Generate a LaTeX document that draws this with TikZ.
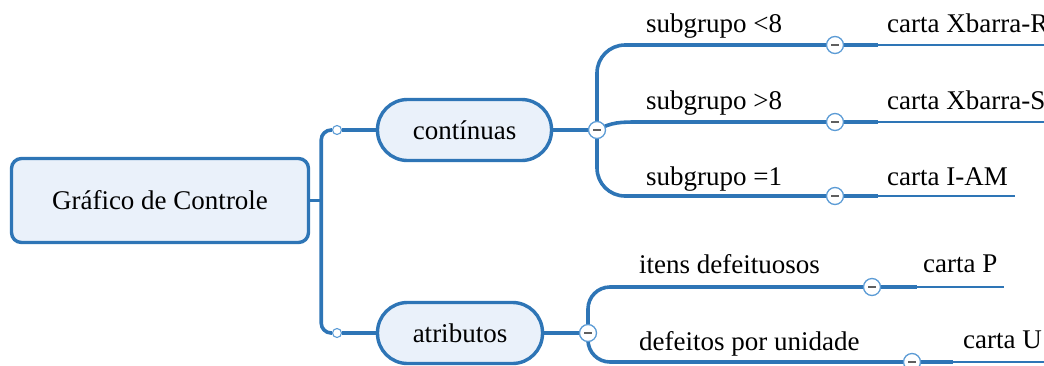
\documentclass[tikz,border=0pt]{standalone}
\usepackage{fontspec}
\setmainfont{Liberation Serif}
\usepackage{tikz}
\usetikzlibrary{positioning}
\usetikzlibrary{shapes,arrows,backgrounds}
\definecolor{mapblue}{RGB}{46,117,182}
\definecolor{mapfill}{RGB}{234,241,250}
\definecolor{foldblue}{RGB}{91,155,213}
\definecolor{foldgray}{RGB}{95,95,95}
\tikzstyle{rootbox} = [rectangle, draw=mapblue, fill=mapfill, line width=3.4pt,
                rounded corners=10pt, minimum width=297pt, minimum height=84pt]
\tikzstyle{catbox} = [rectangle, draw=mapblue, fill=mapfill, line width=3.4pt,
                rounded corners=30pt, minimum width=174pt, minimum height=61pt]
\tikzstyle{link} = [draw=mapblue, line width=3.6pt]
\tikzstyle{leafline} = [draw=mapblue, line width=2.7pt]
\tikzstyle{dot} = [circle, draw=foldblue, fill=white, line width=1.1pt,
                minimum size=9pt, inner sep=0pt]
\tikzstyle{fold} = [circle, draw=foldblue, fill=white, line width=1.3pt,
                minimum size=17pt, inner sep=0pt,
                path picture={\draw[foldgray, line width=1.4pt]
                  ([xshift=-4pt]path picture bounding box.center) --
                  ([xshift=4pt]path picture bounding box.center);}]
\tikzstyle{txt} = [anchor=base west, inner sep=0pt]

\begin{document}
\begin{tikzpicture}[x=1pt, y=-1pt, font=\fontsize{27}{32}\selectfont]
            \clip (0,0) rectangle (1044,365);
            % central topic and main branches
            \node[rootbox](root) at (160,200.5){Gráfico de Controle};
            \node[catbox](cont) at (464.5,130){contínuas};
            \node[catbox, minimum width=165pt](atrib) at (460,333){atributos};
            \node[dot](dc) at (337,130){};
            \node[dot](da) at (337,333){};
            \coordinate[right=11pt of root](rj);
            % contínuas
            \node[fold](fc) at (597,130){};
            \node[fold](fc1) at (835,45){};
            \node[fold](fc2) at (835,122){};
            \node[fold](fc3) at (835,196){};
            \coordinate(m2) at (640,122);
            \node[txt](sg1) at (646,32){subgrupo <8};
            \node[txt](sg2) at (646,109){subgrupo >8};
            \node[txt](sg3) at (646,185){subgrupo =1};
            \node[txt](cr) at (887,32){carta Xbarra-R};
            \node[txt](cs) at (887,109){carta Xbarra-S};
            \node[txt](ci) at (887,185){carta I-AM};
            % atributos
            \node[fold](fa) at (588,333){};
            \node[fold](fa1) at (872,287){};
            \node[fold](fa2) at (912,362){};
            \node[txt](it) at (639,273){itens defeituosos};
            \node[txt](dp) at (639,350){defeitos por unidade};
            \node[txt](cp) at (923,272){carta P};
            \node[txt](cu) at (963,348){carta U};
            % ends of the leaf lines
            \coordinate[left=9pt of cr](cr-a);
            \coordinate[right=7pt of cr](cr-b);
            \coordinate[left=9pt of cs](cs-a);
            \coordinate[right=7pt of cs](cs-b);
            \coordinate[left=9pt of ci](ci-a);
            \coordinate[right=7pt of ci](ci-b);
            \coordinate[left=6pt of cp](cp-a);
            \coordinate[right=6pt of cp](cp-b);
            \coordinate[left=10pt of cu](cu-a);
            \coordinate[right=7pt of cu](cu-b);
            \begin{scope}[on background layer]
              \path[link](root) -- (rj);
              \path[link, rounded corners=10pt](dc) -| (rj) |- (da);
              \path[link](dc) -- (cont);
              \path[link](da) -- (atrib);
              \path[link](cont) -- (fc);
              \path[link, rounded corners=28pt](fc) |- (fc1);
              \path[link, rounded corners=28pt](fc) |- (fc3);
              \path[link](fc.center) .. controls +(15,-8) and +(-20,0) .. (m2) -- (fc2);
              \path[link](fc1) -- (fc1 -| cr-a);
              \path[link](fc2) -- (fc2 -| cs-a);
              \path[link](fc3) -- (fc3 -| ci-a);
              \path[leafline](fc1 -| cr-a) -- (fc1 -| cr-b);
              \path[leafline](fc2 -| cs-a) -- (fc2 -| cs-b);
              \path[leafline](fc3 -| ci-a) -- (fc3 -| ci-b);
              \path[link](atrib) -- (fa);
              \path[link, rounded corners=22pt](fa) |- (fa1);
              \path[link, rounded corners=22pt](fa) |- (fa2);
              \path[link](fa1) -- (fa1 -| cp-a);
              \path[link](fa2) -- (fa2 -| cu-a);
              \path[leafline](fa1 -| cp-a) -- (fa1 -| cp-b);
              \path[leafline](fa2 -| cu-a) -- (fa2 -| cu-b);
            \end{scope}
        \end{tikzpicture}
\end{document}
